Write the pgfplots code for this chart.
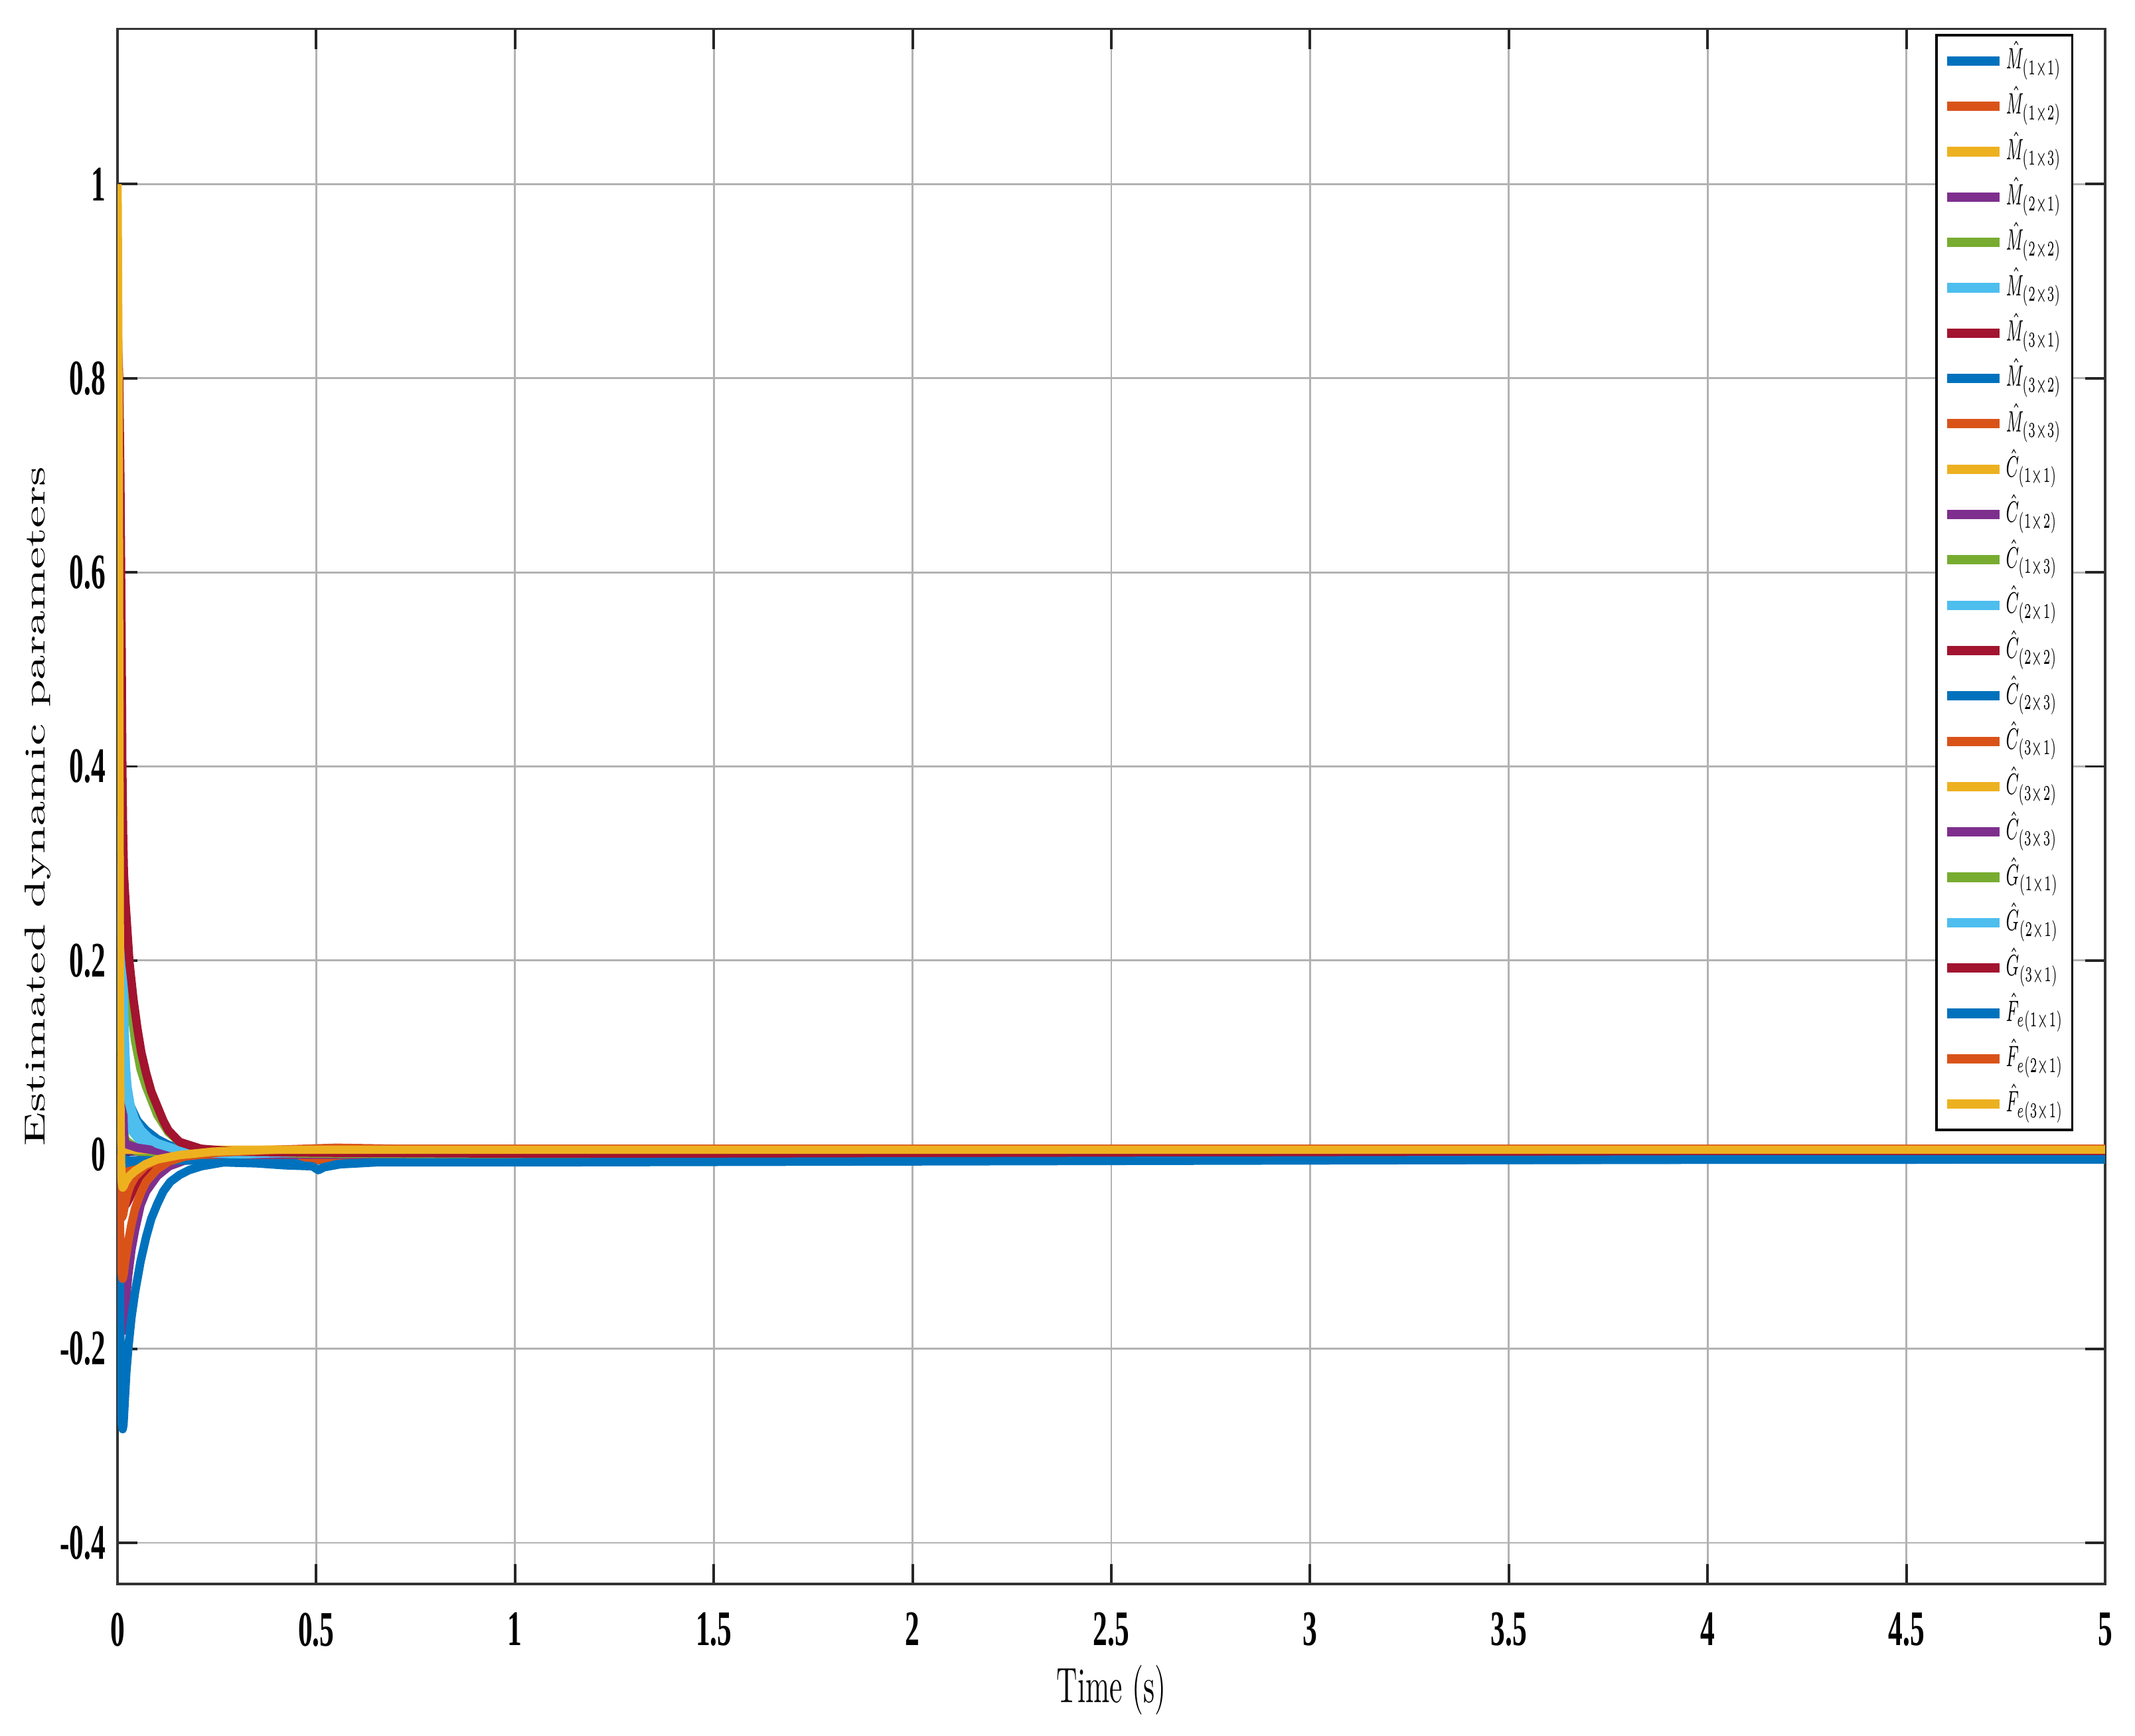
\documentclass[border=0pt]{standalone}
\usepackage{fontspec}
\usepackage{graphicx}
\usepackage{pgfplots}
\pgfplotsset{compat=1.18}
\newfontfamily\tickfont{Liberation Serif}[FakeStretch=0.58]

% MATLAB default line colours
\definecolor{mblue}{RGB}{0,114,189}
\definecolor{morange}{RGB}{217,83,25}
\definecolor{myellow}{RGB}{237,177,32}
\definecolor{mpurple}{RGB}{126,47,142}
\definecolor{mgreen}{RGB}{119,172,48}
\definecolor{mcyan}{RGB}{77,190,238}
\definecolor{mred}{RGB}{162,20,47}

\newcommand{\legtxt}[1]{\scalebox{0.46}[0.9]{$#1$}}

\begin{document}
\begin{tikzpicture}
\useasboundingbox (-0.8806cm,-1.1343cm) rectangle (15.1189cm,11.8704cm);
\begin{axis}[
    scale only axis, width=14.895cm, height=11.654cm,
    at={(0,0)}, anchor=south west,
    xmin=0, xmax=5, ymin=-0.4425, ymax=1.16,
    xtick={0,0.5,1,1.5,2,2.5,3,3.5,4,4.5,5},
    xticklabels={0,0.5,1,1.5,2,2.5,3,3.5,4,4.5,5},
    ytick={-0.4,-0.2,0,0.2,0.4,0.6,0.8,1},
    yticklabels={-0.4,-0.2,0,0.2,0.4,0.6,0.8,1},
    ticklabel style={font=\tickfont\bfseries\fontsize{10.6}{12}\selectfont},
    xticklabel style={yshift=-2.6pt},
    yticklabel style={xshift=1pt},
    grid=major, major grid style={black!30, line width=0.4pt},
    axis line style={black!80, line width=0.55pt},
    tick style={black!85, line width=0.55pt},
    major tick length=0.15cm,
    xlabel={\scalebox{0.58}[1]{Time (s)}},
    ylabel={\scalebox{1}[0.58]{Estimated dynamic parameters}},
    label style={font=\fontsize{10.6}{12}\selectfont},
    xlabel style={at={(axis description cs:0.5,-0.0683)}, anchor=center},
    ylabel style={at={(axis description cs:-0.040,0.5)}, anchor=center},
    legend style={at={(0.984,0.9968)}, anchor=north east, draw=black,
      line width=0.5pt, fill=white, font=\fontsize{7}{8}\selectfont,
      inner xsep=1.4pt, inner ysep=0.7pt, row sep=0pt, cells={anchor=west},
      nodes={inner sep=0.5pt, text height=6pt, text depth=2.67pt}},
    legend image code/.code={
      \draw[#1, line width=2pt, overlay] (0cm,0cm) -- (0.39cm,0cm);
      \path (0cm,0cm) -- (0.39cm,0cm);},
    every axis plot/.append style={line width=1.8pt, line join=round},
  ]
  % M hat
  \addplot[mblue] coordinates {(0,0.06) (0.005,0.02) (0.012,-0.004) (0.03,-0.006) (0.1,-0.006) (0.3,-0.006) (1,-0.006) (5,-0.005)};
  \addlegendentry{\legtxt{\hat{M}_{(1\times 1)}}}
  \addplot[morange] coordinates {(0,0) (0.006,-0.02) (0.015,-0.03) (0.03,-0.02) (0.06,-0.008) (0.1,-0.003) (0.2,0) (0.5,0.002) (1,0.002) (5,0.002)};
  \addlegendentry{\legtxt{\hat{M}_{(1\times 2)}}}
  \addplot[myellow] coordinates {(0,0.1) (0.005,0.04) (0.012,0.01) (0.03,0.006) (0.1,0.003) (0.3,0.002) (5,0.002)};
  \addlegendentry{\legtxt{\hat{M}_{(1\times 3)}}}
  \addplot[mpurple] coordinates {(0,0) (0.004,-0.06) (0.007,-0.13) (0.010,-0.172) (0.013,-0.182) (0.016,-0.175) (0.020,-0.155) (0.027,-0.124) (0.035,-0.098) (0.044,-0.078) (0.058,-0.052) (0.072,-0.038) (0.1,-0.022) (0.13,-0.012) (0.17,-0.006) (0.25,-0.002) (0.4,0) (1,0) (5,0)};
  \addlegendentry{\legtxt{\hat{M}_{(2\times 1)}}}
  \addplot[mgreen] coordinates {(0,0.2) (0.005,0.1) (0.01,0.04) (0.02,0.015) (0.05,0.006) (0.1,0.002) (0.3,0) (5,0)};
  \addlegendentry{\legtxt{\hat{M}_{(2\times 2)}}}
  \addplot[mcyan] coordinates {(0,0.25) (0.006,0.16) (0.012,0.09) (0.02,0.05) (0.035,0.025) (0.06,0.012) (0.1,0.005) (0.2,0.001) (5,0)};
  \addlegendentry{\legtxt{\hat{M}_{(2\times 3)}}}
  \addplot[mred] coordinates {(0,0.02) (0.01,0.008) (0.05,0.003) (0.2,0) (5,0)};
  \addlegendentry{\legtxt{\hat{M}_{(3\times 1)}}}
  \addplot[mblue] coordinates {(0,0.2) (0.006,0.14) (0.012,0.1) (0.016,0.08) (0.022,0.065) (0.033,0.05) (0.05,0.035) (0.072,0.025) (0.1,0.016) (0.128,0.01) (0.16,0.006) (0.21,0.003) (0.3,0) (0.4,-0.002) (0.6,-0.004) (1,-0.005) (5,-0.004)};
  \addlegendentry{\legtxt{\hat{M}_{(3\times 2)}}}
  \addplot[morange] coordinates {(0,0) (0.005,-0.015) (0.01,-0.02) (0.03,-0.012) (0.08,-0.004) (0.2,0) (5,0.001)};
  \addlegendentry{\legtxt{\hat{M}_{(3\times 3)}}}
  % C hat
  \addplot[myellow] coordinates {(0,0.05) (0.01,0.01) (0.05,0.004) (5,0.004)};
  \addlegendentry{\legtxt{\hat{C}_{(1\times 1)}}}
  \addplot[mpurple] coordinates {(0,0.02) (0.01,0.005) (0.1,0) (5,0)};
  \addlegendentry{\legtxt{\hat{C}_{(1\times 2)}}}
  \addplot[mgreen] coordinates {(0,0.03) (0.01,0.01) (0.05,0.003) (0.2,0.001) (5,0)};
  \addlegendentry{\legtxt{\hat{C}_{(1\times 3)}}}
  \addplot[mcyan] coordinates {(0,0.3) (0.008,0.24) (0.012,0.2) (0.015,0.16) (0.018,0.12) (0.021,0.09) (0.025,0.07) (0.033,0.05) (0.044,0.036) (0.06,0.025) (0.08,0.017) (0.1,0.012) (0.15,0.005) (0.2,0.002) (0.3,0) (5,0)};
  \addlegendentry{\legtxt{\hat{C}_{(2\times 1)}}}
  \addplot[mred] coordinates {(0,0) (0.006,-0.02) (0.012,-0.04) (0.018,-0.05) (0.022,-0.051) (0.03,-0.045) (0.044,-0.032) (0.07,-0.016) (0.1,-0.008) (0.15,-0.003) (0.2,-0.001) (0.3,0) (5,0)};
  \addlegendentry{\legtxt{\hat{C}_{(2\times 2)}}}
  \addplot[mblue] coordinates {(0,-0.02) (0.01,-0.01) (0.05,-0.006) (5,-0.005)};
  \addlegendentry{\legtxt{\hat{C}_{(2\times 3)}}}
  \addplot[morange] coordinates {(0,0) (0.004,-0.035) (0.008,-0.058) (0.011,-0.065) (0.014,-0.062) (0.018,-0.053) (0.024,-0.042) (0.032,-0.032) (0.044,-0.023) (0.07,-0.012) (0.1,-0.006) (0.15,-0.002) (0.2,0) (0.45,0) (0.5,-0.006) (0.55,-0.001) (0.7,0.002) (1,0.002) (5,0.002)};
  \addlegendentry{\legtxt{\hat{C}_{(3\times 1)}}}
  \addplot[myellow] coordinates {(0,0.02) (0.02,0.005) (5,0.004)};
  \addlegendentry{\legtxt{\hat{C}_{(3\times 2)}}}
  \addplot[mpurple] coordinates {(0,0.35) (0.006,0.22) (0.01,0.13) (0.013,0.07) (0.016,0.02) (0.02,0.011) (0.05,0.007) (0.1,0.004) (0.2,0.001) (0.3,0) (5,0)};
  \addlegendentry{\legtxt{\hat{C}_{(3\times 3)}}}
  % G hat
  \addplot[mgreen] coordinates {(0,0.45) (0.006,0.38) (0.01,0.32) (0.014,0.26) (0.018,0.22) (0.022,0.195) (0.03,0.165) (0.044,0.118) (0.058,0.088) (0.072,0.07) (0.1,0.041) (0.128,0.023) (0.156,0.013) (0.21,0.005) (0.3,0.002) (0.5,0.001) (1,0) (5,0)};
  \addlegendentry{\legtxt{\hat{G}_{(1\times 1)}}}
  \addplot[mcyan] coordinates {(0,0.35) (0.006,0.28) (0.01,0.23) (0.013,0.2) (0.016,0.16) (0.019,0.11) (0.022,0.075) (0.028,0.055) (0.035,0.043) (0.044,0.033) (0.06,0.024) (0.08,0.016) (0.1,0.011) (0.15,0.005) (0.2,0.002) (0.3,0) (0.5,0.003) (0.6,0.002) (1,0.001) (5,0)};
  \addlegendentry{\legtxt{\hat{G}_{(2\times 1)}}}
  \addplot[mred] coordinates {(0,0.85) (0.004,0.8) (0.007,0.7) (0.010,0.54) (0.012,0.40) (0.014,0.33) (0.016,0.29) (0.020,0.26) (0.024,0.235) (0.030,0.198) (0.040,0.16) (0.050,0.13) (0.060,0.105) (0.072,0.084) (0.085,0.065) (0.1,0.05) (0.115,0.035) (0.128,0.025) (0.156,0.013) (0.21,0.006) (0.3,0.003) (0.5,0.002) (1,0.001) (5,0)};
  \addlegendentry{\legtxt{\hat{G}_{(3\times 1)}}}
  % Fe hat
  \addplot[mblue] coordinates {(0,0) (0.003,-0.02) (0.005,-0.08) (0.007,-0.18) (0.009,-0.25) (0.011,-0.278) (0.013,-0.283) (0.015,-0.278) (0.018,-0.255) (0.022,-0.225) (0.027,-0.2) (0.035,-0.168) (0.044,-0.142) (0.058,-0.11) (0.072,-0.085) (0.085,-0.066) (0.1,-0.051) (0.115,-0.038) (0.133,-0.028) (0.156,-0.021) (0.18,-0.016) (0.211,-0.012) (0.267,-0.008) (0.35,-0.009) (0.42,-0.011) (0.49,-0.012) (0.505,-0.016) (0.52,-0.013) (0.56,-0.01) (0.65,-0.008) (1,-0.008) (2,-0.007) (3,-0.006) (4,-0.005) (5,-0.005)};
  \addlegendentry{\legtxt{\hat{F}_{e(1\times 1)}}}
  \addplot[morange] coordinates {(0,0) (0.004,-0.04) (0.007,-0.09) (0.010,-0.12) (0.013,-0.128) (0.016,-0.122) (0.02,-0.108) (0.027,-0.09) (0.035,-0.072) (0.044,-0.056) (0.058,-0.04) (0.072,-0.028) (0.1,-0.015) (0.13,-0.007) (0.17,-0.002) (0.25,0.002) (0.4,0.005) (0.55,0.007) (0.7,0.006) (1,0.006) (5,0.006)};
  \addlegendentry{\legtxt{\hat{F}_{e(2\times 1)}}}
  \addplot[myellow] coordinates {(0,1.0) (0.003,0.75) (0.004,0.55) (0.005,0.35) (0.006,0.18) (0.007,0.06) (0.009,-0.01) (0.011,-0.028) (0.013,-0.034) (0.016,-0.032) (0.02,-0.028) (0.03,-0.022) (0.044,-0.017) (0.07,-0.01) (0.1,-0.005) (0.156,-0.0005) (0.24,0.003) (0.38,0.005) (0.5,0.005) (1,0.005) (5,0.005)};
  \addlegendentry{\legtxt{\hat{F}_{e(3\times 1)}}}
\end{axis}
\end{tikzpicture}
\end{document}
